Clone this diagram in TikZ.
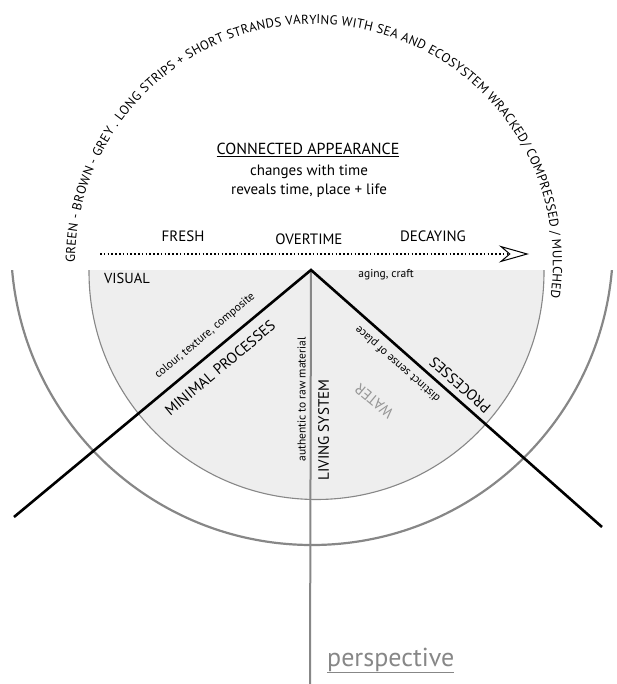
\documentclass[tikz,border=0pt]{standalone}
\usepackage{fontspec}
\setmainfont{PT Sans}
\usetikzlibrary{decorations.text,arrows.meta}
\definecolor{fillg}{RGB}{238,238,238}
\definecolor{lineg}{RGB}{135,135,135}
\definecolor{waterg}{RGB}{150,150,150}
\newcommand\myfs[1]{\fontsize{#1}{#1}\selectfont}
\begin{document}
\begin{tikzpicture}[x=1pt,y=-1pt,
  big/.style={inner sep=0pt,font=\myfs{15}},
  small/.style={inner sep=0pt,font=\myfs{11.5}},
  vline/.style={line width=2.6pt,black},
  gline/.style={line width=2pt,lineg}]
\useasboundingbox (0,0) rectangle (616,684);
% circles
\begin{scope}
  \clip (0,270) rectangle (616,684);
  \fill[fillg] (316.5,272) circle[radius=227.5];
  \draw[lineg,line width=1.1pt] (316.5,272) circle[radius=227.5];
  \draw[lineg,line width=2.2pt] (312,244) circle[radius=301];
\end{scope}
% coordinates
\coordinate (apex) at (311,270);
\coordinate (lend) at (14,517);
\coordinate (rend) at (602,527);
\coordinate (vend) at (310,684);
\coordinate (astart) at (100,254);
\coordinate (aend) at (529,254);
% lines
\draw[gline] (apex) -- (vend);
\draw[vline] (lend) -- (apex) -- (rend);
% arrow
\draw[line width=2pt, dash pattern=on 1.6pt off 2.2pt,
  -{Stealth[open,fill=white,length=30pt,width=17pt,inset=10pt,line width=1pt]}]
  (astart) -- (aend);
% arc text
\path[decorate, decoration={text along path, text align={fit to path},
  text={|\myfs{13}|GREEN - BROWN - GREY . LONG STRIPS + SHORT STRANDS VARYING WITH SEA AND ECOSYSTEM WRACKED/ COMPRESSED / MULCHED}}]
  (75,263) arc[start angle=180, end angle=368.5, radius=239];
% title texts
\node[big,anchor=base,font=\myfs{16}] (title) at (308,155) {\underline{CONNECTED APPEARANCE}};
\node[big,anchor=base] (chg) at (309,176) {changes with time};
\node[big,anchor=base] (rev) at (309,195) {reveals time, place + life};
\node[big,anchor=base] (fresh) at (183,242) {FRESH};
\node[big,anchor=base] (over) at (309,245) {OVERTIME};
\node[big,anchor=base] (dec) at (433,242) {DECAYING};
\node[big,anchor=base,font=\myfs{14.5}] (visual) at (127,283) {VISUAL};
\node[small,anchor=base] (aging) at (386,277) {aging, craft};
% rotated texts
\node[small,rotate=40] (colour) at (205,336) {colour, texture, composite};
\node[big,rotate=40] (minimal) at (220,368) {MINIMAL PROCESSES};
\node[small,rotate=90] (auth) at (301.5,399.5) {authentic to raw material};
\node[big,rotate=90] (living) at (323.5,430) {LIVING SYSTEM};
\node[big,rotate=140,text=waterg] (water) at (374,401) {WATER};
\node[small,rotate=138.6] (distinct) at (398,364) {distinct sense of place};
\node[big,rotate=138.6] (proc) at (460,385) {PROCESSES};
% perspective
\node[inner sep=0pt,anchor=base west,font=\myfs{26},text=lineg] (persp) at (327,666) {\underline{perspective}};
\end{tikzpicture}
\end{document}
